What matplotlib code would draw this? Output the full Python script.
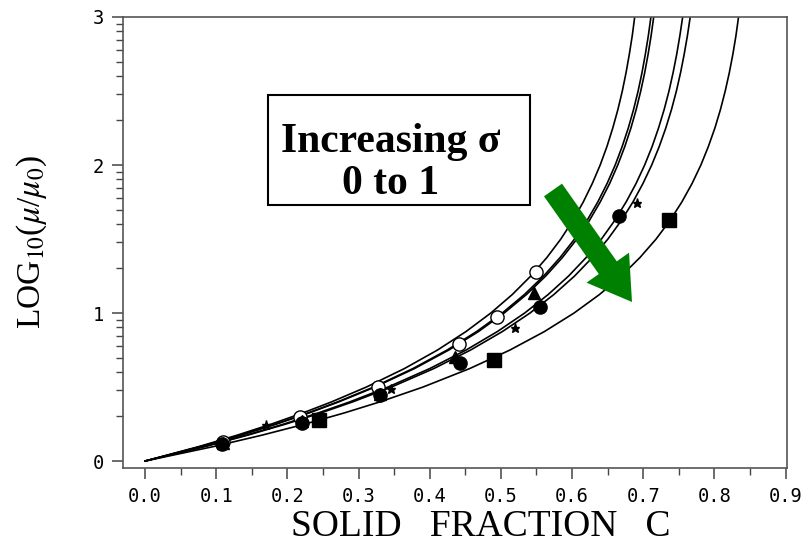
import numpy as np
import matplotlib
matplotlib.use("Agg")
import matplotlib.pyplot as plt
from matplotlib.patches import FancyArrow, Rectangle
from matplotlib.ticker import FixedLocator, MultipleLocator

plt.rcParams["mathtext.fontset"] = "stix"

# ---- data ----
# y levels (LOG10 mu/mu0) at which each curve was read
curve_levels = [0.0, 0.1, 0.175, 0.25, 0.325, 0.4, 0.5, 0.625, 0.75, 0.875, 1.0,
                1.125, 1.25, 1.375, 1.5, 1.625, 1.75, 1.875, 2.0, 2.125, 2.25,
                2.375, 2.5, 2.625, 2.75, 2.875, 3.0, 3.1]
# solid fraction C where each curve crosses those levels
curve1_c = [0.0, 0.0772, 0.1296, 0.1777, 0.2217, 0.2622, 0.3110, 0.3645, 0.4109, 0.4510,
            0.4858, 0.5160, 0.5420, 0.5646, 0.5842, 0.6011, 0.6157, 0.6284, 0.6395, 0.6490,
            0.6572, 0.6644, 0.6706, 0.6759, 0.6805, 0.6846, 0.6880, 0.6905]
curve2_c = [0.0, 0.0798, 0.1339, 0.1836, 0.2291, 0.2708, 0.3213, 0.3765, 0.4245, 0.4659,
            0.5019, 0.5330, 0.5600, 0.5832, 0.6035, 0.6210, 0.6361, 0.6492, 0.6606, 0.6704,
            0.6790, 0.6864, 0.6928, 0.6983, 0.7030, 0.7072, 0.7108, 0.7133]
curve3_c = [0.0, 0.0802, 0.1346, 0.1846, 0.2303, 0.2723, 0.3230, 0.3786, 0.4268, 0.4685,
            0.5046, 0.5359, 0.5630, 0.5864, 0.6068, 0.6243, 0.6395, 0.6528, 0.6642, 0.6741,
            0.6827, 0.6901, 0.6965, 0.7021, 0.7069, 0.7111, 0.7147, 0.7172]
curve4_c = [0.0, 0.0848, 0.1423, 0.1951, 0.2434, 0.2878, 0.3414, 0.4001, 0.4511, 0.4951,
            0.5334, 0.5664, 0.5951, 0.6198, 0.6413, 0.6599, 0.6759, 0.6899, 0.7020, 0.7125,
            0.7215, 0.7294, 0.7362, 0.7420, 0.7471, 0.7515, 0.7554, 0.7580]
curve5_c = [0.0, 0.0860, 0.1443, 0.1978, 0.2469, 0.2919, 0.3462, 0.4058, 0.4574, 0.5021,
            0.5409, 0.5744, 0.6035, 0.6285, 0.6504, 0.6692, 0.6855, 0.6996, 0.7119, 0.7225,
            0.7317, 0.7397, 0.7466, 0.7525, 0.7576, 0.7621, 0.7660, 0.7687]
curve6_c = [0.0, 0.0982, 0.1644, 0.2249, 0.2799, 0.3302, 0.3906, 0.4562, 0.5127, 0.5612,
            0.6028, 0.6385, 0.6691, 0.6954, 0.7181, 0.7375, 0.7542, 0.7686, 0.7810, 0.7915,
            0.8007, 0.8085, 0.8152, 0.8210, 0.8260, 0.8303, 0.8339, 0.8365]

open_c_x = [0.110, 0.218, 0.328, 0.441, 0.495, 0.549]
open_c_y = [0.130, 0.300, 0.500, 0.788, 0.970, 1.280]
tri_x = [0.110, 0.220, 0.330, 0.436, 0.547]
tri_y = [0.120, 0.270, 0.450, 0.705, 1.135]
fill_c_x = [0.108, 0.220, 0.330, 0.443, 0.555, 0.666]
fill_c_y = [0.115, 0.255, 0.446, 0.664, 1.043, 1.657]
star_x = [0.170, 0.345, 0.520, 0.691]
star_y = [0.243, 0.490, 0.900, 1.745]
sq_x = [0.244, 0.490, 0.736]
sq_y = [0.277, 0.680, 1.630]

x_ticks = [0.0, 0.1, 0.2, 0.3, 0.4, 0.5, 0.6, 0.7, 0.8, 0.9]
x_tick_labels = ["0.0", "0.1", "0.2", "0.3", "0.4", "0.5", "0.6", "0.7", "0.8", "0.9"]
y_ticks = [0, 1, 2, 3]
y_tick_labels = ["0", "1", "2", "3"]

# ---- figure ----
W, H = 807, 548
fig = plt.figure(figsize=(W / 100, H / 100), dpi=100)
ax = fig.add_axes([123 / W, 1 - 468 / H, (787 - 123) / W, (468 - 17) / H])

for cx in [curve1_c, curve2_c, curve3_c, curve4_c, curve5_c, curve6_c]:
    ax.plot(cx, curve_levels, color="black", lw=1.2, zorder=2)

ms = 9.5
ax.plot(open_c_x, open_c_y, ls="none", marker="o", ms=ms, mfc="white", mec="black", mew=1.0, zorder=3)
ax.plot(tri_x, tri_y, ls="none", marker="^", ms=ms - 1, mfc="black", mec="black", zorder=3)
ax.plot(fill_c_x, fill_c_y, ls="none", marker="o", ms=ms, mfc="black", mec="black", zorder=4)
ax.plot(star_x, star_y, ls="none", marker="*", ms=6.5, mfc="black", mec="black", zorder=4)
ax.plot(sq_x, sq_y, ls="none", marker="s", ms=ms, mfc="black", mec="black", zorder=4)

ax.set_xlim(-0.031, 0.902)
ax.set_ylim(-0.047, 3.0)

ax.xaxis.set_major_locator(FixedLocator(x_ticks))
ax.xaxis.set_minor_locator(MultipleLocator(0.05))
ax.set_xticklabels(x_tick_labels)
ax.yaxis.set_major_locator(FixedLocator(y_ticks))
ax.set_yticklabels(y_tick_labels)
minor_y = [d + np.log10(k) for d in range(3) for k in range(2, 10)]
ax.yaxis.set_minor_locator(FixedLocator(minor_y))

tick_col = "#444444"
ax.tick_params(which="major", direction="out", length=8, width=1.1, color=tick_col,
               labelsize=13.5, pad=6)
ax.tick_params(which="minor", direction="out", length=5, width=1.0, color=tick_col)
for lab in ax.get_xticklabels() + ax.get_yticklabels():
    lab.set_family("DejaVu Sans Mono")
for sp in ax.spines.values():
    sp.set_color("#555555")
    sp.set_linewidth(1.2)

# axis titles
fig.text(481 / W, 1 - 536 / H, "SOLID   FRACTION   C", ha="center", va="baseline",
         family="Liberation Serif", fontsize=27)
fig.text(32 / W, 1 - 242 / H, r"LOG$_{10}$($\mu$/$\mu_0$)", ha="center", va="center",
         rotation=90, family="Liberation Serif", fontsize=24)

# annotation box
box = Rectangle((268 / 100, (H - 205) / 100), (530 - 268) / 100, (205 - 95) / 100,
                transform=fig.dpi_scale_trans, fill=True, facecolor="white",
                edgecolor="black", lw=1.5, zorder=5)
fig.patches.append(box)
fig.text(391 / W, 1 - 152 / H, "Increasing σ", ha="center", va="baseline",
         family="Liberation Serif", fontweight="bold", fontsize=30, zorder=6)
fig.text(391 / W, 1 - 194 / H, "0 to 1", ha="center", va="baseline",
         family="Liberation Serif", fontweight="bold", fontsize=30, zorder=6)

# green arrow
x0, y0 = 553, 190
x1, y1 = 632, 302
arr = FancyArrow(x0 / 100, (H - y0) / 100, (x1 - x0) / 100, -(y1 - y0) / 100,
                 width=0.22, head_width=0.52, head_length=0.42, length_includes_head=True,
                 transform=fig.dpi_scale_trans, color="#008000", lw=0, zorder=6)
fig.patches.append(arr)

fig.savefig("out.png", dpi=100)
